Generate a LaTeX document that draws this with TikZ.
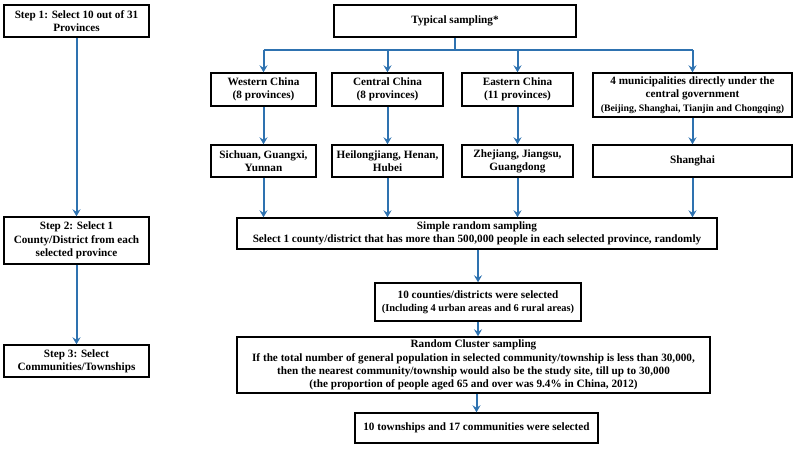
\documentclass[tikz,border=0pt]{standalone}
\usepackage{fontspec}
\setmainfont{Liberation Serif}
\usetikzlibrary{arrows.meta}
\definecolor{arr}{RGB}{46,114,176}
\tikzset{
  box/.style={draw=black, line width=1.4pt, fill=white, align=center, inner sep=1pt,
    font=\fontsize{11.2}{13.2}\selectfont\bfseries},
  arw/.style={draw=arr, line width=2pt, -{Stealth[length=7pt,width=8pt,inset=2.5pt]}},
  ln/.style={draw=arr, line width=2pt},
}
\newcommand{\smalltxt}{\fontsize{9.8}{11}\selectfont}
\newcommand{\smalltxtb}{\fontsize{10.4}{12}\selectfont}
\begin{document}
\begin{tikzpicture}[x=1pt,y=-1pt]
\useasboundingbox (0,0) rectangle (800,449);
% left column
\node[box, minimum width=145pt, minimum height=32pt] (s1) at (76.5,21) {Step 1: Select 10 out of 31\\Provinces};
\node[box, minimum width=145pt, minimum height=47pt] (s2) at (76.5,240.5) {Step 2: Select 1\\County/District from each\\selected province};
\node[box, minimum width=145pt, minimum height=32pt] (s3) at (76.5,361) {Step 3: Select\\Communities/Townships};
\draw[arw] (s1.south) -- (s2.north);
\draw[arw] (s2.south) -- (s3.north);
% top
\node[box, minimum width=242pt, minimum height=32pt] (typ) at (455,21) {Typical sampling*};
\node[box, minimum width=105pt, minimum height=33pt] (west) at (263.5,89.5) {Western China\\(8 provinces)};
\node[box, minimum width=111pt, minimum height=33pt] (cent) at (387.5,89.5) {Central China\\(8 provinces)};
\node[box, minimum width=111pt, minimum height=33pt] (east) at (517.5,89.5) {Eastern China\\(11 provinces)};
\node[box, minimum width=199pt, minimum height=44pt] (muni) at (692.5,95) {4 municipalities directly under the\\central government\\{\smalltxt(Beijing, Shanghai, Tianjin and Chongqing)}};
\coordinate (br) at (455,50);
\draw[ln] (typ.south) -- (br);
\draw[ln] (br -| west) -- (br -| muni);
\draw[arw] (br -| west) -- (west.north);
\draw[arw] (br -| cent) -- (cent.north);
\draw[arw] (br -| east) -- (east.north);
\draw[arw] (br -| muni) -- (muni.north);
% second row
\node[box, minimum width=105pt, minimum height=32pt] (sich) at (263.5,161) {Sichuan, Guangxi,\\Yunnan};
\node[box, minimum width=111pt, minimum height=32pt] (heil) at (387.5,161) {Heilongjiang, Henan,\\Hubei};
\node[box, minimum width=111pt, minimum height=32pt] (zhej) at (517.5,161) {Zhejiang, Jiangsu,\\Guangdong};
\node[box, minimum width=199pt, minimum height=32pt] (shan) at (692.5,161) {Shanghai};
\draw[arw] (west.south) -- (sich.north);
\draw[arw] (cent.south) -- (heil.north);
\draw[arw] (east.south) -- (zhej.north);
\draw[arw] (muni.south) -- (shan.north);
% lower column
\node[box, minimum width=480pt, minimum height=31pt] (srs) at (477,233.5) {Simple random sampling\\Select 1 county/district that has more than 500,000 people in each selected province, randomly};
\draw[arw] (sich.south) -- (sich.south |- srs.north);
\draw[arw] (heil.south) -- (heil.south |- srs.north);
\draw[arw] (zhej.south) -- (zhej.south |- srs.north);
\draw[arw] (shan.south) -- (shan.south |- srs.north);
\node[box, minimum width=206pt, minimum height=38pt] (cnt) at (478,302) {10 counties/districts were selected\\{\smalltxtb(Including 4 urban areas and 6 rural areas)}};
\draw[arw] (srs.south -| cnt) -- (cnt.north);
\node[box, minimum width=473pt, minimum height=56pt] (clu) at (473.5,365) {Random Cluster sampling\\If the total number of general population in selected community/township is less than 30,000,\\then the nearest community/township would also be the study site, till up to 30,000\\(the proportion of people aged 65 and over was 9.4\% in China, 2012)};
\draw[arw] (cnt.south) -- (cnt.south |- clu.north);
\node[box, minimum width=243pt, minimum height=30pt] (fin) at (476.5,428) {10 townships and 17 communities were selected};
\draw[arw] (clu.south -| fin) -- (fin.north);
\end{tikzpicture}
\end{document}
